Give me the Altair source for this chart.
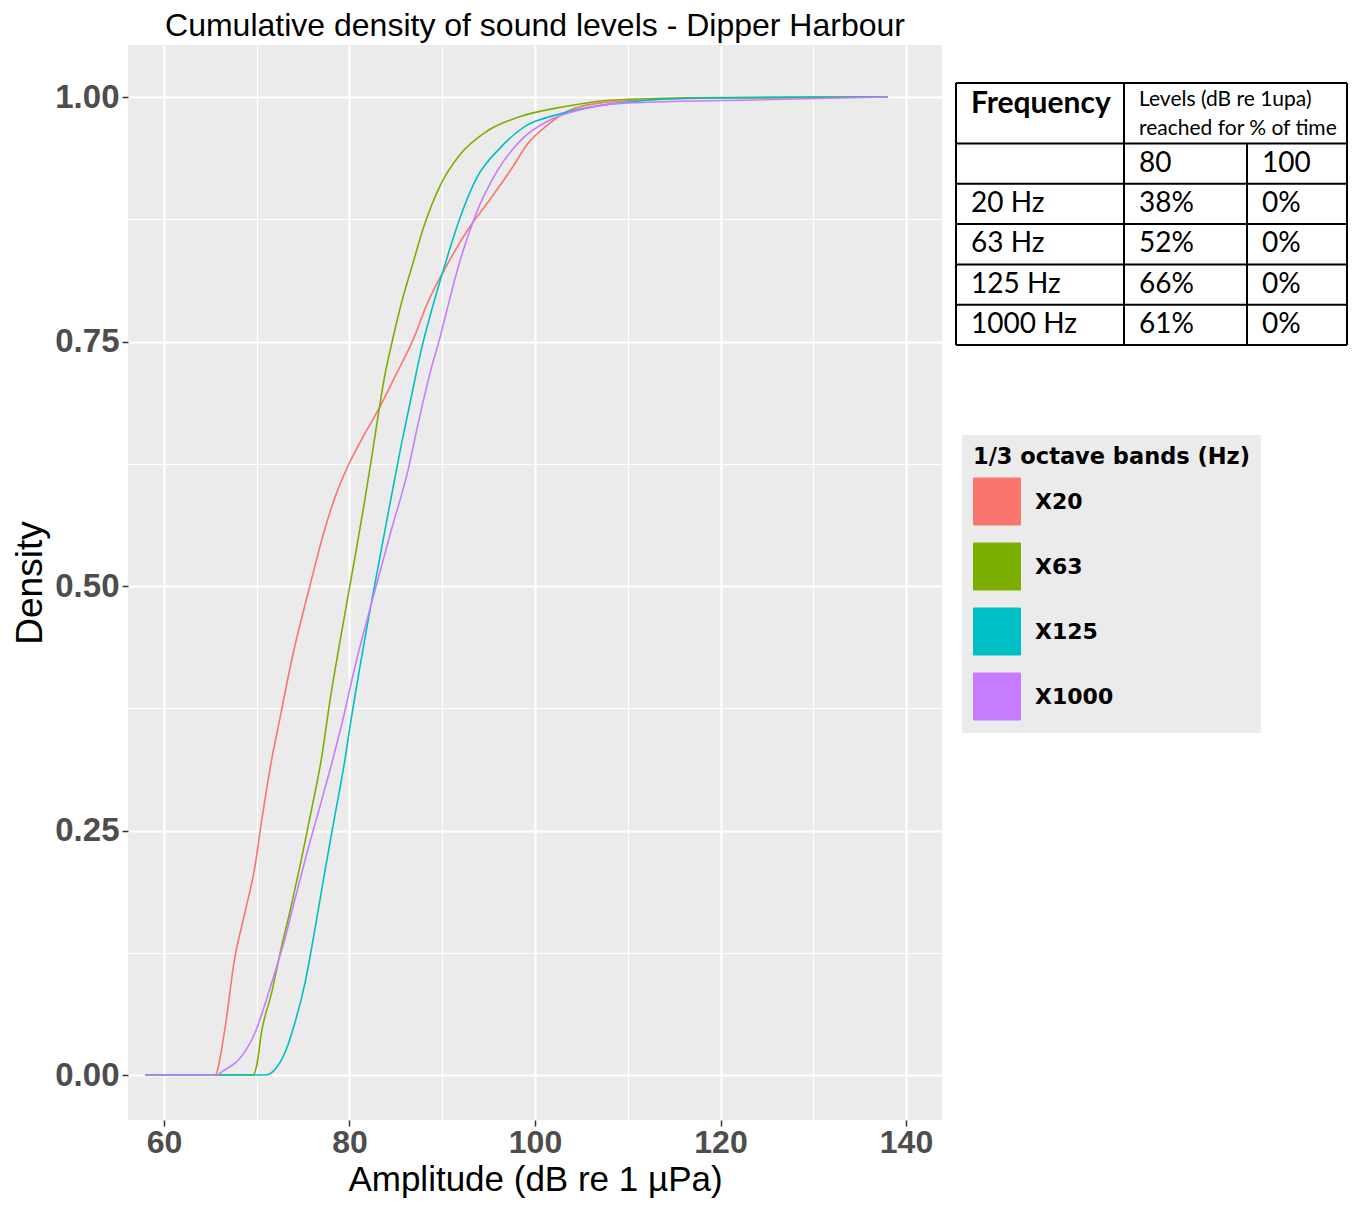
import altair as alt
import pandas as pd

# ---------------- data ----------------
series = ["X20", "X63", "X125", "X1000"]
colors = ["#F8766D", "#7CAE00", "#00BFC4", "#C77CFF"]

amp_x20 = [58, 65.5, 66.5, 67.6, 68.7, 69.8, 70.5, 71.6, 72.4, 73.9, 75.7, 77.3, 78.6, 79.8, 81.6,
           83.1, 84.9, 87.0, 88.3, 90.5, 92.6, 95.2, 97.7, 99.1, 101.3, 103.4, 106.7, 112, 120, 138]
cdf_x20 = [0, 0, .043, .118, .165, .213, .258, .322, .36, .43, .499, .557, .595, .622, .655,
           .68, .714, .755, .787, .828, .862, .896, .930, .951, .971, .985, .9935, .997, .999, 1]

amp_x63 = [58, 69.6, 70.0, 70.5, 71.6, 72.6, 73.7, 74.8, 75.9, 77.0, 77.9, 79.1, 80.6, 81.6,
           82.4, 83.1, 83.8, 84.6, 85.4, 86.9, 88.0, 89.8, 91.9, 94.8, 98.4, 103.1, 108.4, 120, 138]
cdf_x63 = [0, 0, .01, .043, .084, .128, .172, .220, .271, .325, .383, .450, .530, .585,
           .632, .675, .715, .750, .782, .832, .867, .910, .941, .965, .980, .990, .997, .9995, 1]

amp_x125 = [58, 70.9, 71.9, 73.0, 74.1, 75.2, 76.2, 77.3, 78.4, 79.5, 80.0, 82.3, 84.5, 85.6,
            86.7, 87.7, 89.0, 90.5, 91.9, 93.7, 96.2, 99.1, 102.0, 105.0, 109.2, 117.7, 138]
cdf_x125 = [0, 0, .005, .022, .053, .094, .145, .206, .264, .322, .353, .48, .591, .645,
            .695, .740, .787, .835, .876, .917, .9475, .971, .981, .988, .994, .999, 1]

amp_x1000 = [58, 65.6, 66.5, 68.0, 69.8, 71.6, 73.0, 74.1, 75.5, 77.0, 78.4, 79.2, 80.6, 82.3,
             84.5, 86.3, 87.4, 88.8, 89.7, 90.5, 91.9, 93.7, 95.9, 98.7, 101.3, 104.9, 109.2, 123.3, 138]
cdf_x1000 = [0, 0, .005, .015, .043, .094, .138, .179, .230, .281, .330, .36, .418, .48,
             .557, .618, .666, .722, .752, .782, .832, .882, .924, .958, .975, .987, .9935, .997, 1]

# table contents
table_title_col0 = "Frequency"
table_title_col1 = ["Levels (dB re 1upa)", "reached for % of time"]
table_pct_heads = ["80", "100"]
table_freqs = ["20 Hz", "63 Hz", "125 Hz", "1000 Hz"]
table_pct80 = ["38%", "52%", "66%", "61%"]
table_pct100 = ["0%", "0%", "0%", "0%"]

x_ticks = [60, 70, 80, 90, 100, 110, 120, 130, 140]
y_ticks = [0, 0.125, 0.25, 0.375, 0.5, 0.625, 0.75, 0.875, 1.0]

# ---------------- build frames ----------------
rows = []
for name, xs, ys in zip(series, [amp_x20, amp_x63, amp_x125, amp_x1000],
                        [cdf_x20, cdf_x63, cdf_x125, cdf_x1000]):
    for i, (a, d) in enumerate(zip(xs, ys)):
        rows.append({"band": name, "amp": a, "cdf": d, "ord": i})
df = pd.DataFrame(rows)

row_heights = [1.5, 1, 1, 1, 1, 1]
col_widths = [168, 123, 100]
row_b = [0]
for h in row_heights:
    row_b.append(row_b[-1] + h)
col_b = [0]
for w in col_widths:
    col_b.append(col_b[-1] + w)

hrules = pd.DataFrame({"y": row_b, "x": [0] * len(row_b), "x2": [col_b[-1]] * len(row_b)})
vrules = pd.DataFrame({
    "x": [col_b[0], col_b[1], col_b[2], col_b[3]],
    "y": [0, 0, row_b[1], 0],
    "y2": [row_b[-1]] * 4,
})

centers = [(row_b[i] + row_b[i + 1]) / 2 for i in range(len(row_heights))]
body = []
body.append({"t": table_pct_heads[0], "x": col_b[1], "y": centers[1]})
body.append({"t": table_pct_heads[1], "x": col_b[2], "y": centers[1]})
for k in range(len(table_freqs)):
    body.append({"t": table_freqs[k], "x": col_b[0], "y": centers[k + 2]})
    body.append({"t": table_pct80[k], "x": col_b[1], "y": centers[k + 2]})
    body.append({"t": table_pct100[k], "x": col_b[2], "y": centers[k + 2]})
body_df = pd.DataFrame(body)
bold_df = pd.DataFrame([{"t": table_title_col0, "x": col_b[0], "y": 0.52}])
small_df = pd.DataFrame([{"t": table_title_col1[0], "x": col_b[1], "y": 0.42},
                         {"t": table_title_col1[1], "x": col_b[1], "y": 1.13}])

# ---------------- main plot ----------------
x_scale = alt.Scale(domain=[56.12, 143.88], nice=False, zero=False)
y_scale = alt.Scale(domain=[-0.046, 1.0532], nice=False, zero=False)

major_x = "datum.value % 20 === 0"
major_y = "abs(datum.value * 4 - round(datum.value * 4)) < 0.000001"

legend = alt.Legend(
    title="1/3 octave bands (Hz)", orient="none", legendX=834, legendY=390,
    fillColor="#EBEBEB", padding=11, symbolType="square",
    symbolSize=2209, symbolStrokeWidth=1, symbolOpacity=1,
    symbolFillColor=alt.ExprRef(expr="scale('stroke', datum.value)"),
    titleFont="DejaVu Sans", titleFontWeight="bold", titleFontSize=22.5,
    titleColor="black", titlePadding=9, titleLimit=400,
    labelFont="DejaVu Sans", labelFontWeight="bold", labelFontSize=22,
    labelColor="black", labelOffset=14, rowPadding=13,
)

lines = alt.Chart(df).mark_line(interpolate="monotone").encode(
    x=alt.X("amp:Q", scale=x_scale, axis=alt.Axis(
        values=x_ticks, title="Amplitude (dB re 1 µPa)",
        labelExpr=f"{major_x} ? datum.label : ''",
        gridWidth={"condition": {"test": major_x, "value": 2.2}, "value": 1.1},
        tickOpacity={"condition": {"test": major_x, "value": 1}, "value": 0},
        labelPadding=1, labelFontSize=32,
        titleBaseline="alphabetic", titleY=70, titleFontSize=35,
    )),
    y=alt.Y("cdf:Q", scale=y_scale, axis=alt.Axis(
        values=y_ticks, title="Density", format=".2f",
        labelExpr=f"{major_y} ? datum.label : ''",
        gridWidth={"condition": {"test": major_y, "value": 2.2}, "value": 1.1},
        tickOpacity={"condition": {"test": major_y, "value": 1}, "value": 0},
        labelPadding=3, titlePadding=5,
    )),
    stroke=alt.Stroke("band:N", scale=alt.Scale(domain=series, range=colors), legend=legend),
    strokeWidth=alt.value(1.6),
    order="ord:Q",
)

tx = alt.Scale(domain=[0, col_b[-1]], range=[828, 1219], nice=False, zero=False)
ty = alt.Scale(domain=[0, row_b[-1]], range=[38, 300], nice=False, zero=False)

h_layer = alt.Chart(hrules).mark_rule(color="black", strokeWidth=2).encode(
    x=alt.X("x:Q", scale=tx, axis=None), x2="x2:Q", y=alt.Y("y:Q", scale=ty, axis=None))
v_layer = alt.Chart(vrules).mark_rule(color="black", strokeWidth=2).encode(
    x=alt.X("x:Q", scale=tx, axis=None), y=alt.Y("y:Q", scale=ty, axis=None), y2="y2:Q")


def table_text(data, size, weight="normal"):
    return alt.Chart(data).mark_text(
        align="left", baseline="middle", dx=15, font="Lato", fontSize=size,
        fontWeight=weight, color="black").encode(
        x=alt.X("x:Q", scale=tx, axis=None), y=alt.Y("y:Q", scale=ty, axis=None), text="t:N")


chart = alt.layer(
    lines, h_layer, v_layer,
    table_text(body_df, 28), table_text(bold_df, 30, "bold"), table_text(small_df, 21),
).resolve_scale(x="independent", y="independent").properties(
    width=814, height=1075, background="white",
    title=alt.TitleParams("Cumulative density of sound levels - Dipper Harbour",
                          font="Liberation Sans", fontSize=32, fontWeight="normal",
                          color="black", anchor="middle", offset=2),
    autosize=alt.AutoSizeParams(type="none"),
    padding={"left": 120, "top": 37, "right": 406, "bottom": 78},
).configure_view(fill="#EBEBEB", stroke=None).configure_axis(
    domain=False, gridColor="white", tickColor="#333333", tickSize=6, tickWidth=1.5,
    labelFont="Liberation Sans", labelFontWeight="bold", labelFontSize=33,
    labelColor="#4D4D4D",
    titleFont="Liberation Sans", titleFontSize=37, titleFontWeight="normal",
    titleColor="black",
)

chart.save("out.html", embed_options={"renderer": "svg", "actions": False})
